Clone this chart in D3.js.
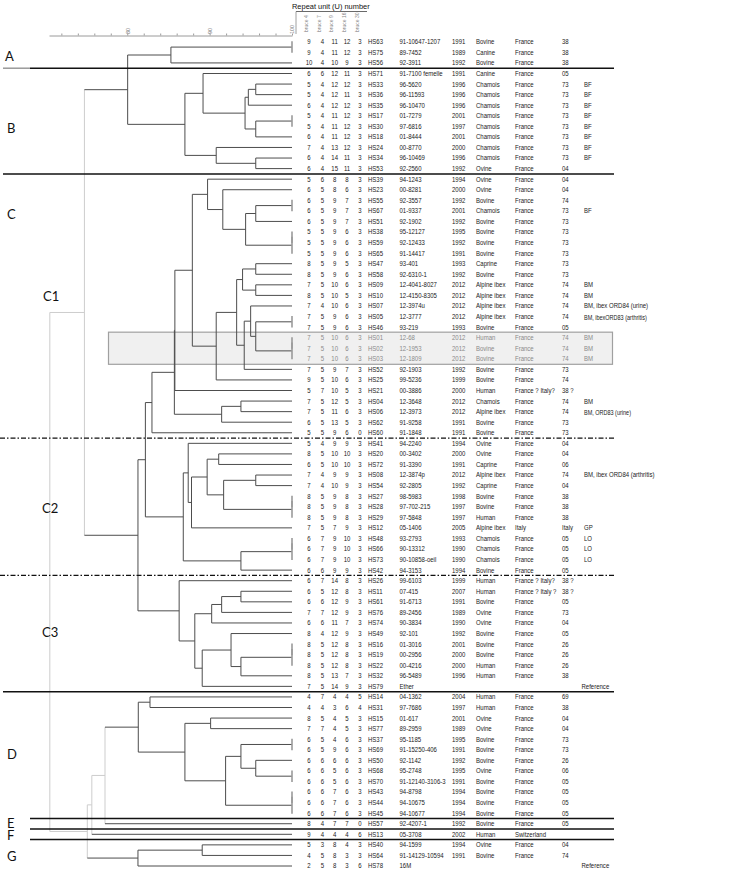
<!DOCTYPE html>
<html><head><meta charset="utf-8">
<script src="https://cdn.jsdelivr.net/npm/d3@7"></script>
<style>
html,body{margin:0;padding:0;background:#fff;}
svg{display:block;}
</style></head>
<body>
<svg id="chart" width="747" height="871"></svg>
<script>
// ---------------- DATA ----------------
const lociNames = ["bruce 4","bruce 7","bruce 9","bruce 16","bruce 30"];
const scaleTicks = [72,74,76,78,80,82,84,86,88,90,92,94,96,98,100];
const scaleLabels = [80,90,100];

const strainIds = ["HS63","HS75","HS56",
 "HS71","HS33","HS36","HS35","HS17","HS30","HS18","HS24","HS34","HS53",
 "HS39","HS23","HS55","HS67","HS51","HS38","HS59","HS65","HS47","HS58","HS09","HS10","HS07","HS05","HS46","HS01","HS02","HS03","HS52","HS25","HS21","HS04","HS06","HS62","HS60",
 "HS41","HS20","HS72","HS08","HS54","HS27","HS28","HS29","HS12","HS48","HS66","HS73","HS42",
 "HS26","HS11","HS61","HS76","HS74","HS49","HS16","HS19","HS22","HS32","HS79",
 "HS14","HS31","HS15","HS77","HS37","HS69","HS50","HS68","HS70","HS43","HS44","HS45",
 "HS57","HS13","HS40","HS64","HS78"];

const bruce04 = [9,9,10, 6,5,5,6,5,5,6,7,6,6,
 5,6,6,6,6,5,5,5,8,8,7,8,7,7,7,7,7,7,7,9,5,7,7,6,5,
 5,8,6,7,7,8,8,8,7,6,6,6,6,
 6,6,6,7,6,8,8,8,8,8,7,
 4,4,8,7,6,6,6,6,6,6,6,6, 8,9,5,4,2];
const bruce07 = [4,4,4, 6,4,4,4,4,4,4,4,4,4,
 6,5,5,5,5,5,5,5,5,5,5,5,4,5,5,5,5,5,5,5,7,5,5,5,5,
 4,5,5,4,4,5,5,5,5,7,7,7,6,
 7,5,6,7,6,4,5,5,5,5,5,
 7,4,5,7,5,5,6,6,6,6,6,6, 4,4,3,5,5];
const bruce09 = [11,11,10, 12,12,12,12,11,11,11,13,14,15,
 8,8,9,9,9,9,9,9,9,9,10,10,10,9,9,10,10,10,9,10,10,12,11,13,9,
 9,10,10,9,10,9,9,9,7,9,9,9,9,
 14,12,12,12,11,12,12,12,12,13,14,
 4,3,4,4,4,9,6,5,5,7,7,7, 7,4,8,8,8];
const bruce16 = [12,12,9, 11,12,11,12,12,12,12,12,11,11,
 8,6,7,7,7,6,6,6,5,6,6,5,6,6,6,6,6,6,7,6,5,5,6,5,6,
 9,10,10,9,9,8,8,8,9,10,10,10,9,
 8,8,9,9,7,9,8,8,8,7,9,
 4,6,5,5,6,6,6,6,6,6,6,6, 7,4,4,3,3];
const bruce30 = [3,3,3, 3,3,3,3,3,3,3,3,3,3,
 3,3,3,3,3,3,3,3,3,3,3,3,3,3,3,3,3,3,3,3,3,3,3,3,0,
 3,3,3,3,3,3,3,3,3,3,3,3,3,
 3,3,3,3,3,3,3,3,3,3,3,
 5,4,3,3,3,3,3,3,3,3,3,3, 0,6,3,3,6];

const isolates = ["91-10647-1207","89-7452","92-3911",
 "91-7100 femelle","96-5620","96-11593","96-10470","01-7279","97-6816","01-8444","00-8770","96-10469","92-2560",
 "94-1243","00-8281","92-3557","01-9337","92-1902","95-12127","92-12433","91-14417","93-401","92-6310-1","12-4041-8027","12-4150-8305","12-3974u","12-3777","93-219","12-68","12-1953","12-1809","92-1903","99-5236","00-3886","12-3648","12-3973","91-9258","91-1848",
 "94-2240","00-3402","91-3390","12-3874p","92-2805","98-5983","97-702-215","97-5848","05-1406","93-2793","90-13312","90-10858-oeil","94-3153",
 "99-6103","07-415","91-6713","89-2456","90-3834","92-101","01-3016","00-2956","00-4216","96-5489","Ether",
 "04-1362","97-7686","01-617","89-2959","95-1185","91-15250-406","92-1142","95-2748","91-12140-3106-3","94-8798","94-10675","94-10677",
 "92-4207-1","05-3708","94-1599","91-14129-10594","16M"];

const years = ["1991","1989","1992",
 "1991","1996","1996","1996","2001","1997","2001","2000","1996","1992",
 "1994","2000","1992","2001","1992","1995","1992","1991","1993","1992","2012","2012","2012","2012","1993","2012","2012","2012","1992","1999","2000","2012","2012","1991","1991",
 "1994","2000","1991","2012","1992","1998","1997","1997","2005","1993","1990","1990","1994",
 "1999","2007","1991","1989","1990","1992","2001","2000","2000","1996","",
 "2004","1997","2001","1989","1995","1991","1992","1995","1991","1994","1994","1994",
 "1992","2002","1994","1991",""];

const hosts = ["Bovine","Canine","Bovine",
 "Canine","Chamois","Chamois","Chamois","Chamois","Chamois","Chamois","Chamois","Chamois","Ovine",
 "Ovine","Ovine","Bovine","Chamois","Bovine","Bovine","Bovine","Bovine","Caprine","Bovine","Alpine ibex","Alpine ibex","Alpine ibex","Alpine ibex","Bovine","Human","Bovine","Bovine","Bovine","Bovine","Human","Chamois","Alpine ibex","Bovine","Bovine",
 "Ovine","Ovine","Caprine","Alpine ibex","Caprine","Bovine","Bovine","Human","Alpine ibex","Chamois","Chamois","Chamois","Bovine",
 "Human","Human","Bovine","Ovine","Ovine","Bovine","Bovine","Bovine","Human","Human","",
 "Human","Human","Ovine","Ovine","Bovine","Bovine","Bovine","Ovine","Bovine","Bovine","Bovine","Bovine",
 "Bovine","Human","Ovine","Bovine",""];

const countries = ["France","France","France",
 "France","France","France","France","France","France","France","France","France","France",
 "France","France","France","France","France","France","France","France","France","France","France","France","France","France","France","France","France","France","France","France","France ? Italy?","France","France","France","France",
 "France","France","France","France","France","France","France","France","Italy","France","France","France","France",
 "France ? Italy?","France ? Italy ?","France","France","France","France","France","France","France","France","",
 "France","France","France","France","France","France","France","France","France","France","France","France",
 "France","Switzerland","France","France",""];

const depts = ["38","38","38",
 "05","73","73","73","73","73","73","73","73","04",
 "04","04","74","73","73","73","73","73","73","73","74","74","74","74","05","74","74","74","73","74","38 ?","74","74","73","73",
 "04","04","06","74","04","38","38","38","Italy","05","05","05","05",
 "38 ?","38 ?","05","73","04","05","26","26","26","38","",
 "69","38","04","04","73","73","26","06","05","05","05","05",
 "05","","04","74",""];

const notes = ["","","",
 "","BF","BF","BF","BF","BF","BF","BF","BF","",
 "","","","BF","","","","","","","BM","BM","BM, ibex ORD84 (urine)","BM, ibexORD83 (arthritis)","","BM","BM","BM","","","","BM","BM, ORD83 (urine)","","",
 "","","","BM, ibex ORD84 (arthritis)","","","","","GP","LO","LO","LO","",
 "","","","","","","","","","","Reference",
 "","","","","","","","","","","","",
 "","","","","Reference"];

// UPGMA merges: [node, left, right, similarity %]
const merges = [
 ["a1","HS63","HS75",100], ["A","a1","HS56",85.3],
 ["b1","HS33","HS36",95.6], ["b2","b1","HS35",94.7], ["b3","HS17","HS30",100], ["b4","b3","HS18",95.6],
 ["b5","b2","b4",94.3], ["b6","HS71","b5",89.2], ["b7","HS34","HS53",95.6], ["b8","HS24","b7",90.8],
 ["B","b6","b8",87.0], ["AB","A","B",80.05],
 ["c1","HS55","HS67",100], ["c2","c1","HS51",95.6], ["c3","HS38","HS59",100], ["c4","c3","HS65",100],
 ["c5","c2","c4",94.37], ["c6","HS23","c5",91.6], ["c7","HS39","c6",89.75],
 ["c8","HS47","HS58",95.6], ["c9","HS09","HS10",95.6], ["c10","c8","c9",94.0],
 ["c11","HS05","HS46",100], ["c12","HS01","HS02",100], ["c13","c12","HS03",100], ["c14","c11","c13",95.6],
 ["c15","HS07","c14",94.98], ["c16","c15","HS52",94.2], ["c17","c10","c16",93.28], ["c18","c17","HS25",90.8],
 ["c19","c7","c18",87.9], ["c20","c19","HS21",85.78],
 ["c21","HS04","HS06",93.8], ["c22","c21","HS62",91.46], ["c23","c20","c22",85.72], ["C1","c23","HS60",83.0],
 ["d1","HS20","HS72",91.1], ["d2","HS08","HS54",95.6], ["d3","HS27","HS28",100], ["d4","d3","HS29",100],
 ["d5","d2","d4",91.7], ["d6","d1","d5",89.7], ["d7","d6","HS12",87.8], ["d8","HS41","d7",87.4],
 ["d9","HS48","HS66",100], ["d10","d9","HS73",100], ["d11","d10","HS42",93.8], ["C2","d8","d11",86.8],
 ["C12","C1","C2",82.2],
 ["e1","HS11","HS61",93.8], ["e2","e1","HS76",91.46], ["e3","e2","HS74",90.25],
 ["e4","HS16","HS19",100], ["e5","e4","HS22",100], ["e6","e5","HS32",93.8], ["e7","HS49","e6",92.6],
 ["e8","e7","HS79",89.1], ["e9","e3","e8",88.2], ["C3","HS26","e9",86.3],
 ["C","C12","C3",81.3], ["ABC","AB","C",74.8],
 ["f1","HS14","HS31",82.76], ["f2","HS15","HS77",90.12], ["f3","HS37","HS69",100], ["f4","HS68","HS70",100],
 ["f5","HS50","f4",95.6], ["f6","f3","f5",93.8], ["f7","HS43","HS44",100], ["f8","f7","HS45",100],
 ["f9","f6","f8",91.94], ["f10","f2","f9",87.0], ["D","f1","f10",81.34],
 ["DE","D","HS57",77.3], ["DEF","DE","HS13",75.7],
 ["g1","HS40","HS64",89.1], ["G","g1","HS78",81.3],
 ["DEFG","DEF","G",75.15], ["root","ABC","DEFG",70.6]
];

// ---------------- DRAW ----------------
const svg = d3.select("#chart");
const x = d3.scaleLinear().domain([70.5, 100]).range([49, 292]);
const y = d3.scalePoint().domain(strainIds).range([41.8, 866]);
const TXT = "'Liberation Sans', Arial, sans-serif";
const SX = 0.86; // horizontally condensed table lettering

// highlighted box (HS01-HS03)
const boxRows = ["HS01","HS02","HS03"];
svg.append("rect")
  .attr("x", 108.5).attr("y", y("HS01") - 5.5)
  .attr("width", 504).attr("height", y("HS03") - y("HS01") + 11)
  .attr("fill", "#f0f0f0").attr("stroke", "#a0a0a0").attr("stroke-width", 1.2);

// tree
const nodeMap = new Map();
strainIds.forEach(id => nodeMap.set(id, {name: id, sim: 100}));
merges.forEach(([name, a, b, s]) => nodeMap.set(name, {name, sim: s, children: [nodeMap.get(a), nodeMap.get(b)]}));
const root = d3.hierarchy(nodeMap.get("root"));
root.eachAfter(n => {
  n.px = x(n.data.sim);
  n.py = n.children ? d3.mean(n.children, c => c.py) : y(n.data.name);
});
const light = "#cdcdcd", dark = "#4d4d4d";
const gTree = svg.append("g").attr("fill", "none");
root.each(n => {
  if (!n.children) return;
  const ys = n.children.map(c => c.py);
  const ident = n.data.sim === 100;
  gTree.append("line")
    .attr("x1", n.px).attr("x2", n.px)
    .attr("y1", d3.min(ys) - (ident ? 0.5 : 0)).attr("y2", d3.max(ys) + (ident ? 0.5 : 0))
    .attr("stroke", ident ? "#9a9a9a" : (n.data.sim < 78 ? light : dark))
    .attr("stroke-width", ident ? 1.6 : 1);
  n.children.forEach(c => {
    if (Math.abs(c.px - n.px) < 0.01) return;
    gTree.append("line")
      .attr("x1", n.px).attr("x2", c.px).attr("y1", c.py).attr("y2", c.py)
      .attr("stroke", (c.children && c.data.sim < 78) ? light : dark)
      .attr("stroke-width", 1);
  });
});

// similarity scale
const axis = d3.axisTop(x).tickValues(scaleTicks).tickSize(2).tickSizeOuter(0)
  .tickFormat(d => scaleLabels.includes(d) ? d : "");
const gAxis = svg.append("g").attr("transform", "translate(0,35.5)").call(axis);
gAxis.select(".domain").attr("stroke", "#9a9a9a");
gAxis.selectAll(".tick line").attr("stroke", "#9a9a9a");
gAxis.selectAll(".tick text")
  .attr("transform", "rotate(-90)").attr("x", 1.5).attr("y", 0).attr("dy", "0.35em")
  .attr("text-anchor", "start").attr("fill", "#777")
  .style("font-family", TXT).style("font-size", "5.5px");

// header
svg.append("text").attr("transform", "translate(292,8.5) scale(0.93,1)").text("Repeat unit (U) number")
  .attr("font-family", TXT).attr("font-size", 8).attr("fill", "#111");
svg.append("line").attr("x1", 296).attr("x2", 367).attr("y1", 11.5).attr("y2", 11.5).attr("stroke", "#444").attr("stroke-width", 0.8);
svg.append("line").attr("x1", 296).attr("x2", 296).attr("y1", 11.5).attr("y2", 34).attr("stroke", "#888").attr("stroke-width", 0.8);
const lociX = [309, 322.3, 334.7, 347, 360];
lociNames.forEach((name, i) => {
  svg.append("text").attr("transform", `translate(${lociX[i] - 1.3},32) rotate(-90)`)
    .text(name).attr("font-family", TXT).attr("font-size", 5).attr("fill", "#888");
});

// table rows
const lociArr = [bruce04, bruce07, bruce09, bruce16, bruce30];
const gRows = svg.append("g").attr("font-family", TXT).attr("font-size", 7);
function cell(g, cx, cy, t, anchor, size) {
  const el = g.append("text").attr("transform", `translate(${cx},${cy}) scale(${SX},1)`)
    .attr("dy", "0.35em").attr("text-anchor", anchor || "start").text(t);
  if (size) el.attr("font-size", size);
  return el;
}
strainIds.forEach((id, i) => {
  const yy = y(id);
  const col = boxRows.includes(id) ? "#8a8a8a" : "#1a1a1a";
  const g = gRows.append("g").attr("fill", col);
  lociArr.forEach((arr, k) => cell(g, lociX[k], yy, arr[i], "middle"));
  const cols = [[368, id], [399.5, isolates[i]], [452, years[i]], [476, hosts[i]], [515, countries[i]], [562, depts[i]]];
  cols.forEach(([cx, t]) => { if (t) cell(g, cx, yy, t); });
  if (notes[i]) {
    const small = notes[i].includes("ORD83");
    cell(g, notes[i] === "Reference" ? 581.5 : 584, yy + (small ? 1.3 : 0), notes[i], "start", small ? 6.4 : 7);
  }
});

// separators
const mid = (a, b) => (y(a) + y(b)) / 2;
const solid = [["HS56","HS71",30], ["HS53","HS39",3], ["HS79","HS14",3], ["HS45","HS57",30], ["HS57","HS13",30], ["HS13","HS40",30]];
solid.forEach(([a, b, x0]) => {
  svg.append("line").attr("x1", x0).attr("x2", 614).attr("y1", mid(a, b)).attr("y2", mid(a, b))
    .attr("stroke", "#111").attr("stroke-width", 1.5);
});
svg.append("line").attr("x1", 3).attr("x2", 30).attr("y1", mid("HS56","HS71")).attr("y2", mid("HS56","HS71"))
  .attr("stroke", "#9a9a9a").attr("stroke-width", 1.5);
[["HS60","HS41"], ["HS42","HS26"]].forEach(([a, b]) => {
  svg.append("line").attr("x1", 0).attr("x2", 614).attr("y1", mid(a, b)).attr("y2", mid(a, b))
    .attr("stroke", "#111").attr("stroke-width", 1.2).attr("stroke-dasharray", "5,2,1.5,2");
});

// group labels
const LBL = "Lato, 'Open Sans', sans-serif";
[["A",5,61],["B",7,133],["C",7,219],["C1",43,301],["C2",42,513],["C3",42,637],["D",7,759],["E",7,827.5],["F",7,840],["G",7,861]]
  .forEach(([t, lx, ly]) => {
    svg.append("text").attr("x", lx).attr("y", ly).text(t)
      .attr("font-family", LBL).attr("font-size", 13).attr("fill", "#111");
  });
</script>
</body></html>
